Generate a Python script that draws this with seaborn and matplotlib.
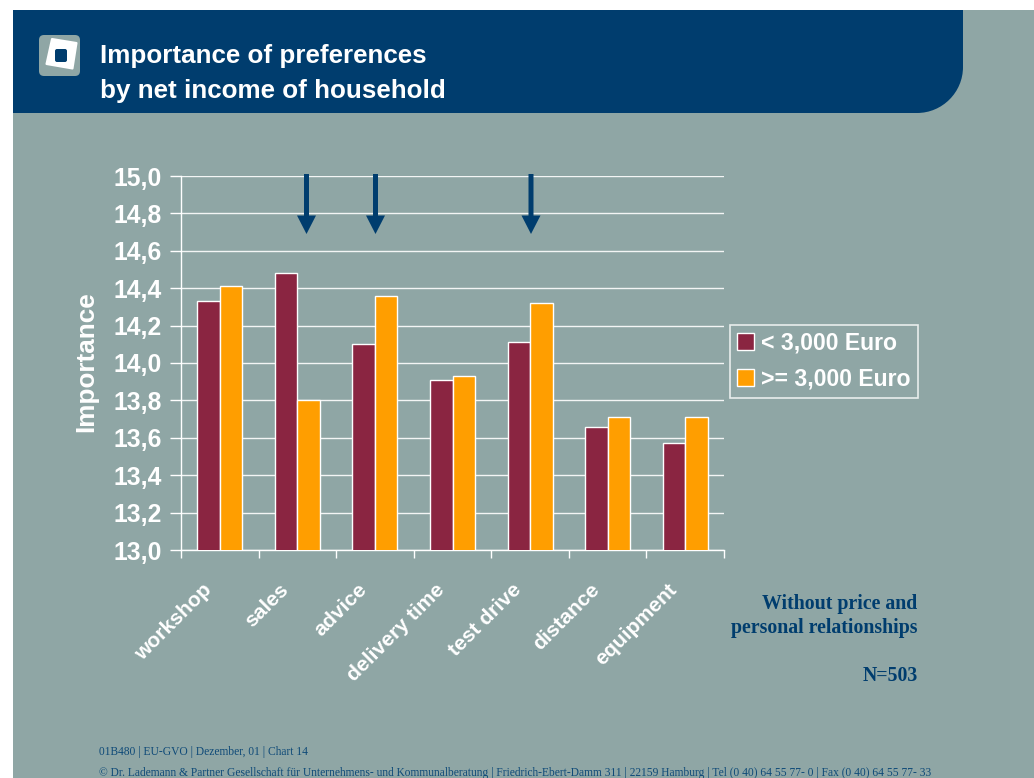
"""Importance of preferences by household income, slide style bar chart."""

import matplotlib
matplotlib.use('Agg')
import matplotlib.pyplot as plt
from matplotlib.patches import FancyBboxPatch, PathPatch, Polygon, Rectangle
from matplotlib.path import Path
from matplotlib.transforms import ScaledTranslation
import pandas as pd
import seaborn as sns

categories = ['workshop', 'sales', 'advice', 'delivery time', 'test drive', 'distance', 'equipment']
low_income = [14.33, 14.48, 14.10, 13.91, 14.11, 13.66, 13.57]
high_income = [14.41, 13.80, 14.36, 13.93, 14.32, 13.71, 13.71]
series_names = ['< 3,000 Euro', '>= 3,000 Euro']
y_ticks = [13.0, 13.2, 13.4, 13.6, 13.8, 14.0, 14.2, 14.4, 14.6, 14.8, 15.0]
y_tick_labels = ['13,0', '13,2', '13,4', '13,6', '13,8', '14,0', '14,2', '14,4', '14,6', '14,8', '15,0']
arrow_categories = ['sales', 'advice', 'test drive']

BG = '#8FA6A5'
NAVY = '#003D6E'
W, H = 1034, 778

sns.set_theme(style='white')
plt.rcParams['font.family'] = ['Liberation Sans', 'DejaVu Sans']

df = pd.DataFrame({
    'category': categories * 2,
    'income': [series_names[0]] * 7 + [series_names[1]] * 7,
    'importance': low_income + high_income,
})

fig = plt.figure(figsize=(W / 100, H / 100), dpi=100, facecolor='white')

# pixel overlay behind the chart for the slide background and header
bg = fig.add_axes([0, 0, 1, 1], zorder=0)
bg.set_xlim(0, W)
bg.set_ylim(H, 0)
bg.axis('off')
bg.add_patch(Rectangle((13, 10), W - 13, H - 10, fc=BG, ec='none'))

r = 46
k = 0.55 * r
header = Path(
    [(13, 10), (963, 10), (963, 113 - r), (963, 113 - r + k), (963 - r + k, 113), (963 - r, 113), (13, 113), (13, 10)],
    [Path.MOVETO, Path.LINETO, Path.LINETO, Path.CURVE4, Path.CURVE4, Path.CURVE4, Path.LINETO, Path.CLOSEPOLY],
)
bg.add_patch(PathPatch(header, fc=NAVY, ec='none'))

# logo
bg.add_patch(FancyBboxPatch((39, 35), 41, 41, boxstyle='round,pad=0,rounding_size=5', fc=BG, ec='none'))
bg.add_patch(Polygon([(52, 39), (76.5, 43), (72.5, 68.5), (46.5, 64)], closed=True, fc='white', ec='white', lw=1.5, joinstyle='round'))
bg.add_patch(FancyBboxPatch((55, 49), 12, 13, boxstyle='round,pad=0,rounding_size=2', fc=NAVY, ec='none'))

bg.text(100, 56, 'Importance of preferences', color='white', fontsize=18.7, fontweight='bold', va='center', ha='left')
bg.text(100, 91, 'by net income of household', color='white', fontsize=18.7, fontweight='bold', va='center', ha='left')

serif = ['Liberation Serif', 'DejaVu Serif']
bg.text(917.5, 604, 'Without price and', color=NAVY, fontsize=14.3, fontweight='bold', family=serif, ha='right', va='center')
bg.text(917.5, 628, 'personal relationships', color=NAVY, fontsize=14.3, fontweight='bold', family=serif, ha='right', va='center')
bg.text(917.5, 676, 'N=503', color=NAVY, fontsize=14.3, fontweight='bold', family=serif, ha='right', va='center')
bg.text(99, 752, '01B480 | EU-GVO | Dezember, 01 | Chart 14', color='#0F4A78', fontsize=8.3, family=serif, ha='left', va='center')
bg.text(99, 773, '© Dr. Lademann & Partner Gesellschaft für Unternehmens- und Kommunalberatung | '
        'Friedrich-Ebert-Damm 311 | 22159 Hamburg | Tel (0 40) 64 55 77- 0 | Fax (0 40) 64 55 77- 33',
        color='#0F4A78', fontsize=8.3, family=serif, ha='left', va='center')

# chart
ax = fig.add_axes([181 / W, 1 - 550 / H, (724 - 181) / W, (550 - 176) / H], zorder=1)
ax.patch.set_alpha(0)
sns.barplot(data=df, x='category', y='importance', hue='income', order=categories,
            hue_order=series_names, palette=['#8A2541', '#FF9E00'], width=0.58, gap=0,
            edgecolor='white', linewidth=1, saturation=1, zorder=3, ax=ax)

ax.set_xlim(-0.5, 6.5)
ax.set_ylim(13, 15)
ax.set_yticks(y_ticks)
ax.set_yticklabels(y_tick_labels, fontsize=17.8, fontweight='bold', color='white')
ax.yaxis.grid(True, color='white', linewidth=1, alpha=0.9, zorder=0)
ax.set_axisbelow(True)
ax.tick_params(axis='y', length=8, width=1, color='white', pad=6, left=True)

ax.set_xticks(range(7))
ax.set_xticklabels(categories, rotation=45, ha='right', rotation_mode='anchor',
                   fontsize=15.2, fontweight='bold', color='white')
ax.tick_params(axis='x', length=0, pad=21.5)
shift = ScaledTranslation(-18 / 100, 0, fig.dpi_scale_trans)
for label in ax.get_xticklabels():
    label.set_transform(label.get_transform() + shift)
ax.set_xticks([i - 0.5 for i in range(8)], minor=True)
ax.tick_params(axis='x', which='minor', length=6, width=1, color='white', bottom=True)

ax.set_xlabel('')
ax.set_ylabel('Importance', fontsize=18.8, fontweight='bold', color='white')
ax.yaxis.set_label_coords((98 - 181) / 543, 0.505)

for side in ['top', 'right']:
    ax.spines[side].set_visible(False)
for side in ['left', 'bottom']:
    ax.spines[side].set_color('white')
    ax.spines[side].set_linewidth(1)

sns.move_legend(ax, 'upper left', bbox_to_anchor=(730 / W, 1 - 325 / H), bbox_transform=fig.transFigure,
                title=None, frameon=True, fontsize=16.6, borderpad=0.3, labelspacing=0.55,
                handlelength=0.75, handleheight=0.75, handletextpad=0.3, borderaxespad=0)
legend = ax.get_legend()
legend.get_frame().set_facecolor('none')
legend.get_frame().set_edgecolor('white')
legend.get_frame().set_linewidth(1.2)
legend.get_frame().set_boxstyle('square', pad=0)
for text in legend.get_texts():
    text.set_color('white')
    text.set_fontweight('bold')

# arrows above the flagged categories, placed on top of the chart
top = fig.add_axes([0, 0, 1, 1], zorder=2)
top.set_xlim(0, W)
top.set_ylim(H, 0)
top.axis('off')
for name, px in zip(arrow_categories, [306.5, 375.5, 531]):
    top.add_patch(Polygon([(px - 2.5, 174), (px + 2.5, 174), (px + 2.5, 215.5), (px + 9.5, 215.5),
                           (px, 234), (px - 9.5, 215.5), (px - 2.5, 215.5)], closed=True, fc=NAVY, ec='none'))

fig.savefig('out.png', dpi=100, facecolor='white')
plt.close(fig)
